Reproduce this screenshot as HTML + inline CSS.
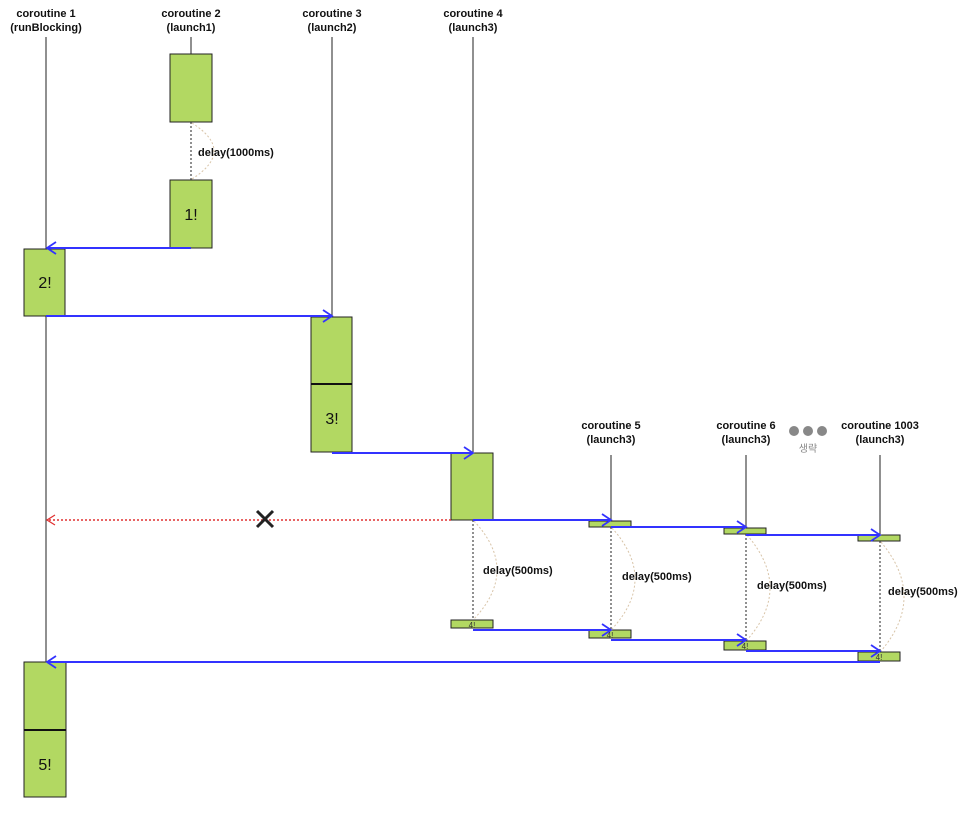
<!DOCTYPE html>
<html><head><meta charset="utf-8"><style>
html,body{margin:0;padding:0;background:#fff;}
text{font-family:"Liberation Sans","Noto Sans CJK KR",sans-serif;}
</style></head><body>
<svg width="971" height="815" viewBox="0 0 971 815" xmlns="http://www.w3.org/2000/svg">
<defs>
<marker id="ar" markerWidth="12" markerHeight="14" refX="10" refY="7" orient="auto" markerUnits="userSpaceOnUse">
<path d="M1,1 L10,7 L1,13" fill="none" stroke="#3333ff" stroke-width="1.8"/></marker>
<marker id="rr" markerWidth="10" markerHeight="12" refX="9" refY="6" orient="auto" markerUnits="userSpaceOnUse">
<path d="M1,1 L9,6 L1,11" fill="none" stroke="#e03030" stroke-width="1.2"/></marker>
</defs>
<g font-size="11" font-weight="bold" text-anchor="middle" fill="#111">
<text x="46" y="17">coroutine 1</text><text x="46" y="31">(runBlocking)</text>
<text x="191" y="17">coroutine 2</text><text x="191" y="31">(launch1)</text>
<text x="332" y="17">coroutine 3</text><text x="332" y="31">(launch2)</text>
<text x="473" y="17">coroutine 4</text><text x="473" y="31">(launch3)</text>
<text x="611" y="429">coroutine 5</text><text x="611" y="443">(launch3)</text>
<text x="746" y="429">coroutine 6</text><text x="746" y="443">(launch3)</text>
<text x="880" y="429">coroutine 1003</text><text x="880" y="443">(launch3)</text>
</g>
<circle cx="794" cy="431" r="5" fill="#888"/><circle cx="808" cy="431" r="5" fill="#888"/><circle cx="822" cy="431" r="5" fill="#888"/>
<text x="808" y="452" font-size="10" fill="#888" text-anchor="middle">생략</text>
<g stroke="#222" stroke-width="1">
<line x1="46" y1="37" x2="46" y2="662"/>
<line x1="191" y1="37" x2="191" y2="54"/>
<line x1="332" y1="37" x2="332" y2="317"/>
<line x1="473" y1="37" x2="473" y2="453"/>
<line x1="611" y1="455" x2="611" y2="521"/>
<line x1="746" y1="455" x2="746" y2="528"/>
<line x1="880" y1="455" x2="880" y2="535"/>
</g>
<g stroke="#222" stroke-width="1" stroke-dasharray="2,2">
<line x1="191" y1="122" x2="191" y2="180"/>
<line x1="473" y1="520" x2="473" y2="620"/>
<line x1="611" y1="527" x2="611" y2="630"/>
<line x1="746" y1="534" x2="746" y2="641"/>
<line x1="880" y1="541" x2="880" y2="652"/>
</g>
<g fill="none" stroke="#d8c4a8" stroke-width="1" stroke-dasharray="2,2">
<path d="M192,123 Q236,151 192,179"/>
<path d="M474,521 Q520,570 474,619"/>
<path d="M612,528 Q658,579 612,629"/>
<path d="M747,535 Q793,588 747,640"/>
<path d="M881,542 Q927,597 881,651"/>
</g>
<g font-size="11" font-weight="bold" fill="#111">
<text x="198" y="156">delay(1000ms)</text>
<text x="483" y="574">delay(500ms)</text>
<text x="622" y="580">delay(500ms)</text>
<text x="757" y="589">delay(500ms)</text>
<text x="888" y="595">delay(500ms)</text>
</g>
<g fill="#b2d862" stroke="#222" stroke-width="1">
<rect x="170" y="54" width="42" height="68"/>
<rect x="170" y="180" width="42" height="68"/>
<rect x="24" y="249" width="41" height="67"/>
<rect x="311" y="317" width="41" height="135"/>
<rect x="451" y="453" width="42" height="67"/>
<rect x="589" y="521" width="42" height="6"/>
<rect x="724" y="528" width="42" height="6"/>
<rect x="858" y="535" width="42" height="6"/>
<rect x="451" y="620" width="42" height="8"/>
<rect x="589" y="630" width="42" height="8"/>
<rect x="724" y="641" width="42" height="9"/>
<rect x="858" y="652" width="42" height="9"/>
<rect x="24" y="662" width="42" height="135"/>
</g>
<line x1="311" y1="384" x2="352" y2="384" stroke="#111" stroke-width="2"/>
<line x1="24" y1="730" x2="66" y2="730" stroke="#111" stroke-width="2"/>
<g font-size="16" text-anchor="middle" fill="#111">
<text x="191" y="220">1!</text><text x="45" y="288">2!</text>
<text x="332" y="424">3!</text><text x="45" y="770">5!</text>
</g>
<g font-size="8" text-anchor="middle" fill="#333">
<text x="472" y="628">4!</text><text x="610" y="638">4!</text>
<text x="745" y="649">4!</text><text x="879" y="660">4!</text>
</g>
<g stroke="#3333ff" stroke-width="2" fill="none" marker-end="url(#ar)">
<line x1="191" y1="248" x2="47" y2="248"/>
<line x1="46" y1="316" x2="332" y2="316"/>
<line x1="332" y1="453" x2="473" y2="453"/>
<line x1="473" y1="520" x2="611" y2="520"/>
<line x1="611" y1="527" x2="746" y2="527"/>
<line x1="746" y1="535" x2="880" y2="535"/>
<line x1="473" y1="630" x2="611" y2="630"/>
<line x1="611" y1="640" x2="746" y2="640"/>
<line x1="746" y1="651" x2="880" y2="651"/>
<line x1="880" y1="662" x2="47" y2="662"/>
</g>
<line x1="451" y1="520" x2="47" y2="520" stroke="#e03030" stroke-width="1.5" stroke-dasharray="2,2" marker-end="url(#rr)"/>
<g stroke="#222" stroke-width="3"><line x1="257" y1="511" x2="273" y2="527"/><line x1="273" y1="511" x2="257" y2="527"/></g>
</svg>
</body></html>
